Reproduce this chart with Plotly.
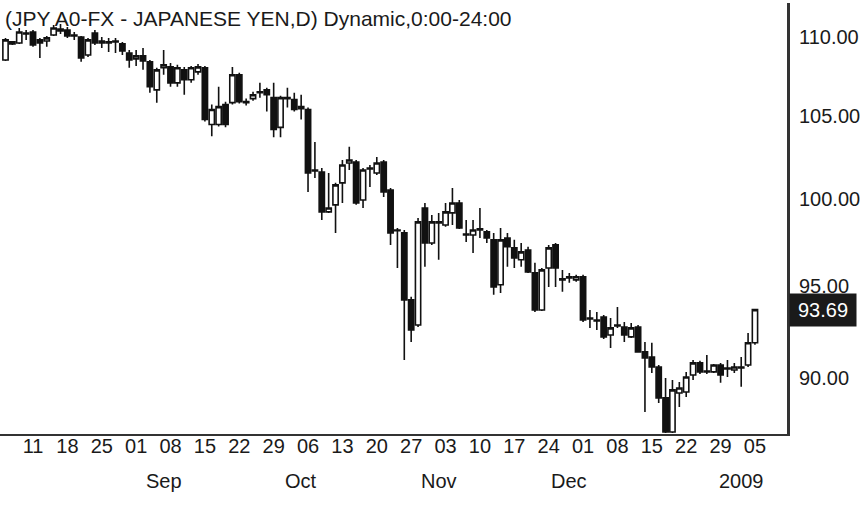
import math
import pandas as pd
import plotly.graph_objects as go

# ---------------- data ----------------
dates = [d.strftime("%Y-%m-%d") for d in pd.bdate_range("2008-08-05", "2009-01-05")]

open_ = [108.52,109.55,109.61,110.26,110.32,109.81,109.74,110.13,110.52,110.45,
         110.13,110.00,108.84,110.26,109.74,109.68,109.74,109.55,108.97,108.59,
         108.78,108.40,106.63,108.02,108.08,107.07,107.89,107.26,107.76,108.02,
         104.48,104.48,105.71,105.83,107.58,105.89,106.08,106.45,106.63,106.14,
         104.30,106.14,106.02,105.58,105.40,101.72,101.60,99.24,99.65,100.95,
         102.14,102.20,99.94,101.84,101.54,102.20,100.53,98.14,98.02,94.23,
         92.85,99.47,97.44,98.66,98.48,99.18,99.76,97.96,97.90,98.25,
         98.08,97.62,95.07,97.73,97.16,96.48,97.04,95.74,93.67,96.02,
         97.33,95.41,95.52,95.35,95.52,93.23,93.12,93.29,92.30,92.85,
         92.74,92.20,92.74,91.39,91.12,90.58,88.95,87.18,89.21,89.26,
         90.16,90.80,90.37,90.32,90.69,90.53,90.42,90.58,90.69,91.88]
high = [109.94,109.74,110.58,110.45,110.45,109.94,110.06,110.78,110.84,110.65,
        110.32,110.06,109.94,110.45,110.00,109.94,109.94,109.68,109.16,109.16,
        109.29,108.52,108.02,109.16,108.33,108.21,108.08,108.14,108.27,108.14,
        105.71,106.82,105.89,108.08,107.70,106.08,106.51,107.07,106.76,107.07,
        106.26,106.76,106.45,106.32,105.52,103.41,101.84,101.54,100.95,102.32,
        103.11,102.32,101.84,102.02,102.50,102.32,100.65,98.31,98.19,94.40,
        98.89,99.76,99.06,99.18,99.76,100.65,99.94,98.77,98.77,99.47,
        98.19,98.02,98.31,98.02,97.62,97.44,97.22,96.31,96.02,97.33,
        97.44,95.91,95.74,95.63,95.63,93.67,93.56,93.40,93.23,93.84,
        93.01,92.96,92.85,91.93,91.88,90.69,90.00,89.89,89.79,90.32,
        90.96,90.91,91.23,90.74,90.80,90.96,90.80,91.12,92.41,93.73]
low = [108.46,109.48,109.55,109.81,109.36,108.65,109.36,110.06,110.19,109.94,
       109.81,108.40,108.71,109.48,109.29,109.03,108.97,108.84,108.02,108.14,
       107.89,106.45,105.83,107.58,106.82,106.82,106.32,107.07,107.58,104.66,
       103.75,104.36,104.30,105.71,105.77,105.65,105.95,106.14,105.28,103.69,
       103.69,105.52,105.28,104.78,100.41,101.24,98.77,99.18,98.02,99.76,
       101.72,99.65,99.47,100.71,101.42,100.12,97.33,96.02,90.96,91.93,
       92.74,96.08,97.33,96.48,98.37,98.48,98.25,97.50,96.87,97.73,
       97.44,94.51,94.62,96.08,96.02,96.08,95.74,93.56,93.62,94.95,
       94.95,94.68,95.18,95.24,93.01,92.69,92.58,92.09,91.60,92.69,
       91.93,92.14,91.34,88.21,90.26,88.68,87.13,87.13,88.47,89.00,
       89.89,90.21,90.21,90.26,89.74,90.05,90.26,89.53,90.58,91.77]
close = [109.81,109.68,110.32,110.19,109.48,109.61,109.94,110.58,110.39,110.06,
         110.06,108.65,109.81,109.61,109.61,109.61,109.68,109.10,108.52,108.78,
         108.46,106.82,107.89,108.21,107.07,108.02,107.26,108.02,108.08,104.78,
         105.40,105.58,104.48,107.58,105.89,105.83,106.32,106.51,106.32,104.17,
         106.14,106.08,105.40,105.46,101.54,101.66,99.24,99.47,100.83,102.02,
         102.32,99.76,101.72,101.78,102.14,100.41,98.02,98.19,94.23,92.58,
         98.66,97.44,98.66,98.60,99.24,99.76,98.31,97.90,98.19,98.19,
         97.73,94.95,97.62,97.22,96.59,96.93,95.80,93.67,95.91,97.16,
         96.02,95.35,95.46,95.52,93.12,93.18,93.07,92.20,92.69,92.80,
         92.30,92.69,91.39,91.07,90.58,88.95,87.18,89.37,89.47,90.05,
         90.80,90.32,90.32,90.69,90.16,90.48,90.58,90.53,91.88,93.69]

tick_dates = ["2008-08-11","2008-08-18","2008-08-25","2008-09-01","2008-09-08",
              "2008-09-15","2008-09-22","2008-09-29","2008-10-06","2008-10-13",
              "2008-10-20","2008-10-27","2008-11-03","2008-11-10","2008-11-17",
              "2008-11-24","2008-12-01","2008-12-08","2008-12-15","2008-12-22",
              "2008-12-29","2009-01-05"]
tick_text = ["11","18","25","01","08","15","22","29","06","13","20","27",
             "03","10","17","24","01","08","15","22","29","05"]
month_text = ["Sep","Oct","Nov","Dec","2009"]
month_anchor_dates = ["2008-09-05","2008-10-03","2008-10-31","2008-11-27","2009-01-01"]
y_ticks = [90, 95, 100, 105, 110]
y_tick_text = ["90.00","95.00","100.00","105.00","110.00"]
last_price = 93.69
title_text = "(JPY A0-FX - JAPANESE YEN,D) Dynamic,0:00-24:00"

# ---------------- figure ----------------
FONT = "Liberation Sans, Arial, Helvetica, sans-serif"
W, H = 867, 521
M = dict(l=0, r=80, t=3, b=87)
plot_h = H - M["t"] - M["b"]
bottom_px = H - M["b"]

fig = go.Figure(go.Candlestick(
    x=dates, open=open_, high=high, low=low, close=close,
    increasing=dict(line=dict(color="#111111", width=1.6), fillcolor="white"),
    decreasing=dict(line=dict(color="#111111", width=1.6), fillcolor="#111111"),
    whiskerwidth=0, hoverinfo="skip", showlegend=False,
))

fig.update_layout(
    width=W, height=H, margin=M,
    paper_bgcolor="white", plot_bgcolor="white",
    font=dict(family=FONT, size=20, color="#1a1a1a"),
    boxgap=0.15, boxgroupgap=0.1,
    showlegend=False,
)

fig.update_xaxes(
    type="category", rangeslider=dict(visible=False),
    range=[-0.8, 113.66],
    showgrid=False, zeroline=False,
    showline=True, linecolor="#333333", linewidth=2,
    tickmode="array", tickvals=tick_dates, ticktext=tick_text,
    ticks="", ticklabelstandoff=-7,
    tickfont=dict(family=FONT, size=20, color="#1a1a1a"),
)

fig.update_yaxes(
    type="log", side="right",
    range=[math.log10(87.08), math.log10(112.22)],
    showgrid=False, zeroline=False,
    showline=True, linecolor="#333333", linewidth=3, mirror=False,
    tickmode="array", tickvals=y_ticks, ticktext=y_tick_text,
    ticks="outside", ticklen=5, tickcolor="rgba(0,0,0,0)",
    tickfont=dict(family=FONT, size=20, color="#1a1a1a"),
)

annotations = [
    dict(text=title_text, xref="paper", yref="paper", x=0, y=1,
         xanchor="left", yanchor="top", xshift=3, yshift=-2, showarrow=False,
         font=dict(family=FONT, size=21, color="#1a1a1a")),
    dict(text=str(last_price), xref="paper", yref="y", x=1,
         y=math.log10(last_price), xanchor="left", yanchor="middle",
         xshift=2, showarrow=False, bgcolor="#1a1a1a", borderpad=5,
         width=56, align="center",
         font=dict(family=FONT, size=20, color="white")),
]
for d, t in zip(month_anchor_dates, month_text):
    annotations.append(dict(
        text=t, xref="x", yref="paper", x=dates.index(d),
        y=(bottom_px - 481) / plot_h, xanchor="center", yanchor="middle",
        showarrow=False, font=dict(family=FONT, size=20, color="#1a1a1a")))
fig.update_layout(annotations=annotations)

fig.write_html("out.html", config={"displayModeBar": False},
               post_script="document.body.style.margin='0';")
